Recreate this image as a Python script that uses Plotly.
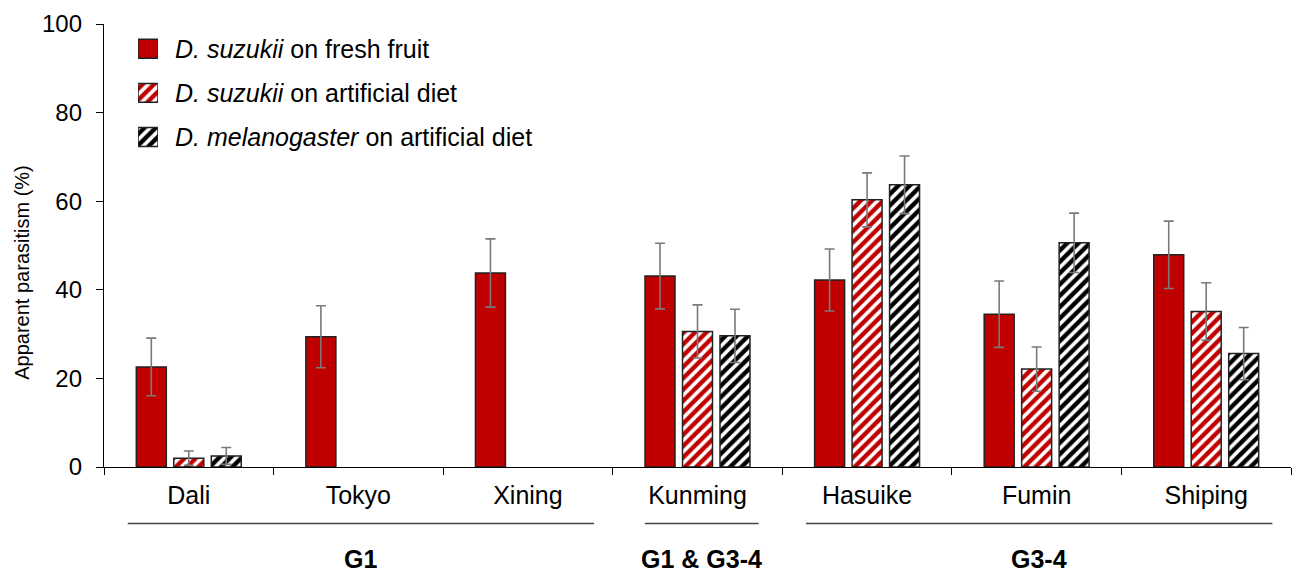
import plotly.graph_objects as go

categories = ["Dali", "Tokyo", "Xining", "Kunming", "Hasuike", "Fumin", "Shiping"]
fresh = [22.6, 29.4, 43.8, 43.1, 42.2, 34.5, 47.9]
fresh_err = [6.5, 7.0, 7.7, 7.4, 7.0, 7.5, 7.6]
suz_diet = [2.0, None, None, 30.6, 60.3, 22.1, 35.1]
suz_diet_err = [1.6, None, None, 6.0, 6.1, 5.0, 6.5]
mel_diet = [2.5, None, None, 29.6, 63.7, 50.6, 25.6]
mel_diet_err = [1.9, None, None, 6.0, 6.5, 6.7, 5.9]
y_ticks = [0, 20, 40, 60, 80, 100]
series_names = ["<i>D. suzukii</i> on fresh fruit",
                "<i>D. suzukii</i> on artificial diet",
                "<i>D. melanogaster</i> on artificial diet"]
groups = [("G1", 0, 2), ("G1 &amp; G3-4", 3, 3), ("G3-4", 4, 6)]

FONT = "Arial, Liberation Sans, sans-serif"
RED = "#C00000"
ERRC = "#7a7a7a"
EDGE = "#222222"

def err(v):
    return dict(type="data", array=v, color=ERRC, thickness=1.6, width=5, visible=True)

def pat(bg):
    return dict(shape="/", bgcolor=bg, fgcolor="white", size=8, solidity=0.45, fillmode="replace")

markers = [
    dict(color=RED, line=dict(color=EDGE, width=1.5)),
    dict(color=RED, line=dict(color=EDGE, width=1.5), pattern=pat(RED)),
    dict(color="black", line=dict(color=EDGE, width=1.5), pattern=pat("black")),
]

fig = go.Figure()
for vals, errs, name, mk in zip([fresh, suz_diet, mel_diet], [fresh_err, suz_diet_err, mel_diet_err],
                                series_names, markers):
    fig.add_trace(go.Bar(x=categories, y=vals, name=name, marker=mk, error_y=err(errs),
                         showlegend=False))

# custom legend (larger swatches) on an inset axis
for i, (name, mk) in enumerate(zip(series_names, markers)):
    fig.add_trace(go.Bar(x=[1], y=[i], orientation="h", width=0.43, marker=mk,
                         xaxis="x2", yaxis="y2", showlegend=False, hoverinfo="skip"))
    yc = (467 - (45 + 44.5 * i)) / 447
    fig.add_annotation(xref="paper", yref="paper", x=(173 - 104) / 1187, y=yc, text=name,
                       showarrow=False, xanchor="left", yanchor="middle",
                       font=dict(family=FONT, size=25, color="black"))

# group brackets below the axis
for label, i0, i1 in groups:
    x0 = i0 - 0.36 if i0 != 3 else i0 - 0.31
    x1 = i1 + 0.39 if i1 != 3 else i1 + 0.36
    fig.add_shape(type="line", xref="x", yref="paper", x0=x0, x1=x1, y0=-0.1275, y1=-0.1275,
                  line=dict(color="#444444", width=1.3))
    fig.add_annotation(xref="x", yref="paper", x=(x0 + x1) / 2, y=-0.208, text="<b>" + label + "</b>",
                       showarrow=False, font=dict(family=FONT, size=25, color="black"),
                       xanchor="center", yanchor="middle")

# y-axis title
fig.add_annotation(xref="paper", yref="paper", x=(22 - 104) / 1187, y=(467 - 271) / 447,
                   text="Apparent parasitism (%)", textangle=-90, showarrow=False,
                   xanchor="center", yanchor="middle", font=dict(family=FONT, size=20, color="black"))

fig.update_layout(
    width=1301, height=574,
    margin=dict(l=104, r=10, t=20, b=107),
    plot_bgcolor="white", paper_bgcolor="white",
    barmode="group", bargap=0.337, bargroupgap=0.2,
    font=dict(family=FONT, size=25, color="black"),
    showlegend=False,
    xaxis=dict(showline=True, linecolor="black", linewidth=1.3, ticks="outside", ticklen=7,
               tickcolor="black", tickson="boundaries", tickfont=dict(size=25), range=[-0.5, 6.5],
               ticklabelstandoff=6),
    yaxis=dict(showline=True, linecolor="black", linewidth=1.3, ticks="outside", ticklen=7,
               tickcolor="black", tickvals=y_ticks, range=[0, 100], showgrid=False, zeroline=False,
               tickfont=dict(size=24), ticklabelstandoff=9),
    xaxis2=dict(domain=[(138 - 104) / 1187, (158 - 104) / 1187], range=[0, 1], visible=False,
                anchor="y2", fixedrange=True),
    yaxis2=dict(domain=[(467 - 156.25) / 447, (467 - 22.75) / 447], range=[2.5, -0.5], visible=False,
                anchor="x2", fixedrange=True),
)

fig.write_html("out.html")
